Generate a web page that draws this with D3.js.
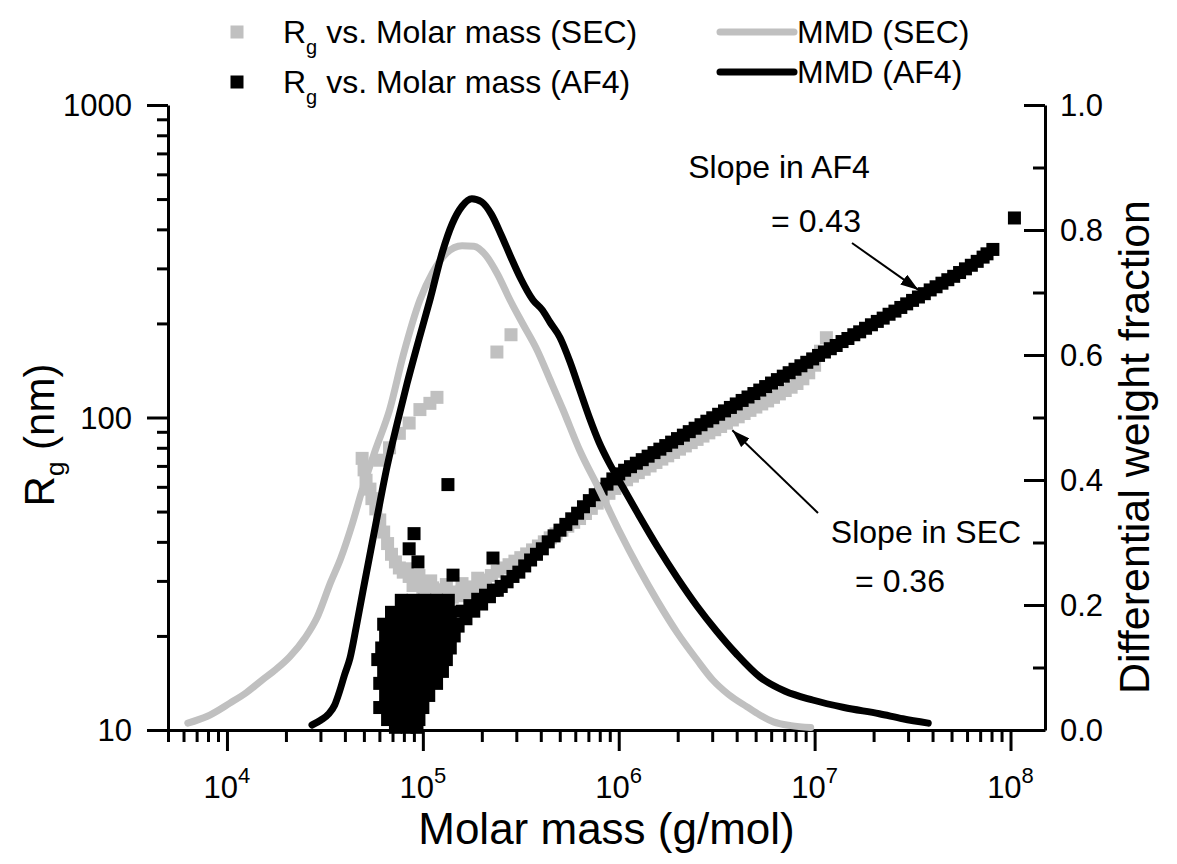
<!DOCTYPE html>
<html>
<head>
<meta charset="utf-8">
<script src="https://cdn.jsdelivr.net/npm/d3@7"></script>
<style>
  body { margin: 0; background: #fff; }
  svg { font-family: "Liberation Sans", Arial, sans-serif; }
</style>
</head>
<body>
<svg id="chart"></svg>
<script>
// values; molar mass kept as log10(M)
const secMmd = [
  [3.80, 0.011], [3.90, 0.022], [4.015, 0.043], [4.10, 0.060], [4.18, 0.080], [4.25, 0.097],
  [4.32, 0.117], [4.40, 0.148], [4.46, 0.180], [4.53, 0.237], [4.58, 0.274], [4.64, 0.330],
  [4.69, 0.384], [4.76, 0.450], [4.83, 0.512], [4.90, 0.600], [4.985, 0.688], [5.05, 0.732],
  [5.12, 0.763], [5.20, 0.775], [5.26, 0.774], [5.32, 0.760], [5.38, 0.730], [5.445, 0.688],
  [5.51, 0.650], [5.583, 0.608], [5.65, 0.560], [5.716, 0.512], [5.80, 0.448], [5.90, 0.385],
  [6.00, 0.320], [6.10, 0.260], [6.20, 0.205], [6.30, 0.155], [6.40, 0.112], [6.48, 0.080],
  [6.56, 0.057], [6.655, 0.037], [6.72, 0.024], [6.79, 0.013], [6.88, 0.007], [6.98, 0.004]
];

const af4Mmd = [
  [4.434, 0.008], [4.48, 0.016], [4.52, 0.026], [4.55, 0.040], [4.575, 0.062], [4.60, 0.088],
  [4.628, 0.115], [4.66, 0.165], [4.694, 0.222], [4.76, 0.330], [4.817, 0.421], [4.87, 0.492],
  [4.919, 0.554], [4.98, 0.625], [5.036, 0.688], [5.10, 0.765], [5.15, 0.810], [5.20, 0.838],
  [5.25, 0.850], [5.30, 0.845], [5.35, 0.825], [5.40, 0.792], [5.45, 0.756], [5.50, 0.722],
  [5.562, 0.688], [5.61, 0.672], [5.65, 0.652], [5.70, 0.628], [5.75, 0.590], [5.80, 0.545],
  [5.85, 0.500], [5.90, 0.460], [5.95, 0.428], [6.00, 0.400], [6.10, 0.345], [6.20, 0.292],
  [6.30, 0.243], [6.40, 0.198], [6.50, 0.158], [6.60, 0.122], [6.72, 0.085], [6.85, 0.062],
  [6.99, 0.048], [7.15, 0.036], [7.33, 0.026], [7.45, 0.018], [7.58, 0.011]
];

const secRg = [
  [4.69, 74], [4.70, 68], [4.71, 63], [4.73, 59], [4.74, 55], [4.76, 51], [4.78, 47], [4.80, 43],
  [4.82, 39.5], [4.84, 36.5], [4.86, 34.5], [4.88, 33], [4.90, 32], [4.93, 31], [4.96, 30.2],
  [4.99, 29.6], [5.02, 29.0], [5.05, 28.5], [5.08, 28.1], [5.11, 27.8], [5.14, 27.6], [5.17, 27.6],
  [5.20, 27.8], [5.23, 28.2], [5.26, 28.7], [5.29, 29.4], [5.32, 30.2], [5.35, 31.2], [5.38, 32.2],
  [5.41, 33.0], [5.44, 33.8], [5.47, 34.7], [5.50, 35.6], [5.53, 36.6], [5.56, 37.7], [5.59, 38.8],
  [5.62, 40.0], [5.65, 41.2], [5.68, 42.4], [5.71, 43.6], [5.74, 44.9], [5.77, 46.2], [5.80, 47.5],
  [5.83, 49.3], [5.86, 51.2], [5.89, 53.2], [5.92, 55.2], [5.95, 57.2], [5.98, 59.3], [6.01, 61.5],
  [6.04, 63.2], [6.07, 64.9], [6.10, 66.6], [6.13, 68.3], [6.16, 70.0], [6.19, 71.8], [6.22, 73.6],
  [6.25, 75.4], [6.28, 77.3], [6.31, 79.2], [6.34, 81.1], [6.37, 83.1], [6.40, 85.1], [6.43, 87.2],
  [6.46, 89.3], [6.49, 91.4], [6.52, 93.6], [6.55, 95.9], [6.58, 98.2], [6.61, 100.5], [6.64, 103],
  [6.67, 105.4], [6.70, 108], [6.73, 110.5], [6.76, 113], [6.79, 116], [6.82, 119], [6.85, 122],
  [6.88, 125], [6.91, 128.5], [6.94, 133], [6.97, 139], [7.00, 147], [7.03, 163], [7.06, 180],
  [4.95, 29.0], [5.00, 28.2], [5.05, 27.3], [5.10, 26.8], [5.15, 26.6], [5.20, 26.9], [5.25, 27.4],
  [5.30, 28.4], [4.92, 32.8], [4.98, 31.2], [5.04, 30.0], [5.12, 29.2], [5.20, 29.4], [5.28, 30.6],
  [4.78, 73], [4.83, 80], [4.88, 89], [4.93, 96], [4.985, 106], [5.036, 111], [5.072, 116],
  [5.378, 162], [5.45, 184]
];

const af4Rg = [
  [4.89, 26.0], [4.95, 26.0], [5.01, 26.0], [5.07, 26.0], [5.13, 26.0],
  [4.84, 23.8], [4.90, 23.8], [4.96, 23.8], [5.02, 23.8], [5.08, 23.8], [5.14, 23.8],
  [4.80, 21.8], [4.86, 21.8], [4.92, 21.8], [4.98, 21.8], [5.04, 21.8], [5.10, 21.8], [5.16, 21.8],
  [4.81, 20.0], [4.87, 20.0], [4.93, 20.0], [4.99, 20.0], [5.05, 20.0], [5.11, 20.0], [5.16, 20.0],
  [4.79, 18.3], [4.85, 18.3], [4.91, 18.3], [4.97, 18.3], [5.03, 18.3], [5.09, 18.3], [5.14, 18.3],
  [4.77, 16.8], [4.83, 16.8], [4.89, 16.8], [4.95, 16.8], [5.01, 16.8], [5.07, 16.8], [5.12, 16.8],
  [4.80, 15.4], [4.86, 15.4], [4.92, 15.4], [4.98, 15.4], [5.04, 15.4], [5.10, 15.4],
  [4.78, 14.1], [4.84, 14.1], [4.90, 14.1], [4.96, 14.1], [5.02, 14.1], [5.07, 14.1],
  [4.81, 12.9], [4.87, 12.9], [4.93, 12.9], [4.99, 12.9], [5.03, 12.9],
  [4.78, 11.8], [4.84, 11.8], [4.90, 11.8], [4.96, 11.8], [5.00, 11.8],
  [4.82, 10.8], [4.88, 10.8], [4.94, 10.8], [4.98, 10.8],
  [4.86, 10.2], [4.92, 10.2], [4.97, 10.2],
  [5.18, 21.5], [5.22, 22.7], [5.26, 24.0], [5.30, 25.3], [5.34, 26.7], [5.38, 28.0],
  [5.20, 24.0], [5.24, 25.0], [5.28, 26.2], [5.32, 27.0], [5.36, 28.0], [5.40, 28.8], [5.43, 29.8],
  [5.46, 31.0], [5.49, 32.0], [5.52, 33.5], [5.55, 35.0], [5.58, 36.5], [5.61, 38.0], [5.64, 40.0],
  [5.67, 41.8], [5.70, 43.6], [5.73, 45.5], [5.76, 47.4], [5.79, 49.4], [5.82, 51.8], [5.85, 54.2],
  [5.88, 56.6], [5.91, 59.0], [5.94, 61.2], [5.97, 63.6], [6.00, 66.0], [6.03, 67.8], [6.06, 69.6],
  [6.09, 71.4], [6.12, 73.3], [6.15, 75.2], [6.18, 77.2], [6.21, 79.2], [6.24, 81.3], [6.27, 83.4],
  [6.30, 85.6], [6.33, 87.8], [6.36, 90.1], [6.39, 92.4], [6.42, 94.8], [6.45, 97.3], [6.48, 99.8],
  [6.51, 102.4], [6.54, 105], [6.57, 107.7], [6.60, 110.5], [6.63, 113.4], [6.66, 116.3],
  [6.69, 119.3], [6.72, 122.4], [6.75, 125.6], [6.78, 128.9], [6.81, 132.2], [6.84, 135.6],
  [6.87, 139.1], [6.90, 142.7], [6.93, 146.4], [6.96, 150.2], [6.99, 154], [7.02, 158], [7.05, 162],
  [7.08, 166], [7.11, 170], [7.14, 175], [7.17, 179], [7.20, 184], [7.23, 188], [7.26, 193],
  [7.29, 198], [7.32, 203], [7.35, 208], [7.38, 214], [7.41, 219], [7.44, 225], [7.47, 231],
  [7.50, 237], [7.53, 243], [7.56, 249], [7.59, 256], [7.62, 262], [7.65, 269], [7.68, 276],
  [7.71, 283], [7.74, 291], [7.77, 299], [7.80, 307], [7.83, 316], [7.86, 326], [7.88, 334],
  [7.91, 345], [8.02, 435],
  [5.128, 61], [4.955, 42.5], [4.93, 38], [4.975, 34.5], [5.154, 31.3], [5.358, 35.5]
];

const xMajor = [1e4, 1e5, 1e6, 1e7, 1e8];
const xExp = ["4", "5", "6", "7", "8"];
const yMajor = [10, 100, 1000];
const yMajorLabels = ["10", "100", "1000"];
const y2Major = [0, 0.2, 0.4, 0.6, 0.8, 1.0];
const y2MajorLabels = ["0.0", "0.2", "0.4", "0.6", "0.8", "1.0"];
const y2Minor = [0.1, 0.3, 0.5, 0.7, 0.9];

const width = 1177;
const height = 864;
const plotLeft = 168, plotRight = 1045, plotTop = 105, plotBottom = 730;
const gray = "#c0c0c0";

const svg = d3.select("#chart")
  .attr("width", width)
  .attr("height", height);

const x = d3.scaleLog().domain([5000, 1.5e8]).range([plotLeft, plotRight]);
const y = d3.scaleLog().domain([10, 1000]).range([plotBottom, plotTop]);
const y2 = d3.scaleLinear().domain([0, 1]).range([plotBottom, plotTop]);
const mx = lg => x(Math.pow(10, lg));

// minor ticks on the log axes
const xMinor = [];
for (let e = 3; e <= 7; e++) {
  for (let k = 2; k <= 9; k++) {
    const v = k * Math.pow(10, e);
    if (v >= 5000 && v <= 1.5e8) xMinor.push(v);
  }
}
const yMinor = [];
for (let e = 1; e <= 2; e++) {
  for (let k = 2; k <= 9; k++) yMinor.push(k * Math.pow(10, e));
}

function styleAxis(g) {
  g.selectAll("path, line").attr("stroke", "#000").attr("stroke-width", 3);
  g.selectAll("text").remove();
}

// bottom axis
svg.append("g")
  .attr("transform", `translate(0,${plotBottom})`)
  .call(d3.axisBottom(x).tickValues(xMinor).tickSize(12).tickSizeOuter(0).tickFormat(""))
  .call(styleAxis);
svg.append("g")
  .attr("transform", `translate(0,${plotBottom})`)
  .call(d3.axisBottom(x).tickValues(xMajor).tickSize(21).tickSizeOuter(0).tickFormat(""))
  .call(styleAxis)
  .select(".domain").remove();

svg.append("g")
  .selectAll("text")
  .data(xMajor)
  .join("text")
  .attr("x", d => x(d))
  .attr("y", 798)
  .attr("text-anchor", "middle")
  .attr("font-size", 31)
  .each(function(d, i) {
    const t = d3.select(this);
    t.append("tspan").text("10");
    t.append("tspan").attr("font-size", 22).attr("dy", -15).text(xExp[i]);
  });

// left axis
svg.append("g")
  .attr("transform", `translate(${plotLeft},0)`)
  .call(d3.axisLeft(y).tickValues(yMinor).tickSize(11).tickSizeOuter(0).tickFormat(""))
  .call(styleAxis);
svg.append("g")
  .attr("transform", `translate(${plotLeft},0)`)
  .call(d3.axisLeft(y).tickValues(yMajor).tickSize(21).tickSizeOuter(0).tickFormat(""))
  .call(styleAxis)
  .select(".domain").remove();
svg.append("g")
  .selectAll("text")
  .data(yMajor)
  .join("text")
  .attr("x", 132)
  .attr("y", d => y(d))
  .attr("dy", "0.36em")
  .attr("text-anchor", "end")
  .attr("font-size", 31)
  .text((d, i) => yMajorLabels[i]);

// right axis, ticks pointing inward
svg.append("g")
  .attr("transform", `translate(${plotRight},0)`)
  .call(d3.axisLeft(y2).tickValues(y2Minor).tickSize(12).tickSizeOuter(0).tickFormat(""))
  .call(styleAxis);
svg.append("g")
  .attr("transform", `translate(${plotRight},0)`)
  .call(d3.axisLeft(y2).tickValues(y2Major).tickSize(21).tickSizeOuter(0).tickFormat(""))
  .call(styleAxis)
  .select(".domain").remove();
svg.append("g")
  .selectAll("text")
  .data(y2Major)
  .join("text")
  .attr("x", 1060)
  .attr("y", d => y2(d))
  .attr("dy", "0.36em")
  .attr("font-size", 31)
  .text((d, i) => y2MajorLabels[i]);

// scatter: SEC first, AF4 on top
const sq = 13;
svg.append("g")
  .selectAll("rect")
  .data(secRg)
  .join("rect")
  .attr("x", d => mx(d[0]) - sq / 2)
  .attr("y", d => y(d[1]) - sq / 2)
  .attr("width", sq)
  .attr("height", sq)
  .attr("fill", gray);

svg.append("g")
  .selectAll("rect")
  .data(af4Rg)
  .join("rect")
  .attr("x", d => mx(d[0]) - sq / 2)
  .attr("y", d => y(d[1]) - sq / 2)
  .attr("width", sq)
  .attr("height", sq)
  .attr("fill", "#000");

// molar mass distributions
const line = d3.line()
  .x(d => mx(d[0]))
  .y(d => y2(d[1]))
  .curve(d3.curveMonotoneX);

svg.append("path")
  .datum(secMmd)
  .attr("d", line)
  .attr("fill", "none")
  .attr("stroke", gray)
  .attr("stroke-width", 7)
  .attr("stroke-linecap", "round")
  .attr("stroke-linejoin", "round");

svg.append("path")
  .datum(af4Mmd)
  .attr("d", line)
  .attr("fill", "none")
  .attr("stroke", "#000")
  .attr("stroke-width", 7)
  .attr("stroke-linecap", "round")
  .attr("stroke-linejoin", "round");

// axis titles
svg.append("text")
  .attr("x", (plotLeft + plotRight) / 2)
  .attr("y", 844)
  .attr("text-anchor", "middle")
  .attr("font-size", 44)
  .text("Molar mass (g/mol)");

const yt = svg.append("text")
  .attr("transform", `translate(54,435) rotate(-90)`)
  .attr("text-anchor", "middle")
  .attr("font-size", 42);
yt.append("tspan").text("R");
yt.append("tspan").attr("font-size", 26).attr("dy", 10).text("g");
yt.append("tspan").attr("dy", -10).text(" (nm)");

svg.append("text")
  .attr("transform", `translate(1149,447) rotate(-90)`)
  .attr("text-anchor", "middle")
  .attr("font-size", 43)
  .text("Differential weight fraction");

// legend
const legRows = [
  { y: 32, fill: gray, label: " vs. Molar mass (SEC)" },
  { y: 82, fill: "#000", label: " vs. Molar mass (AF4)" }
];
legRows.forEach(r => {
  svg.append("rect").attr("x", 237 - sq / 2).attr("y", r.y - sq / 2)
    .attr("width", sq).attr("height", sq).attr("fill", r.fill);
  const t = svg.append("text").attr("x", 283).attr("y", r.y + 11).attr("font-size", 32);
  t.append("tspan").text("R");
  t.append("tspan").attr("font-size", 20).attr("dy", 11).text("g");
  t.append("tspan").attr("dy", -11).text(r.label);
});

const legLines = [
  { y: 32, stroke: gray, label: "MMD (SEC)" },
  { y: 72, stroke: "#000", label: "MMD (AF4)" }
];
legLines.forEach(r => {
  svg.append("line").attr("x1", 720).attr("x2", 794).attr("y1", r.y).attr("y2", r.y)
    .attr("stroke", r.stroke).attr("stroke-width", 7).attr("stroke-linecap", "round");
  svg.append("text").attr("x", 797).attr("y", r.y + 11).attr("font-size", 32).text(r.label);
});

// annotations
svg.append("defs").append("marker")
  .attr("id", "head")
  .attr("viewBox", "0 0 18 12")
  .attr("refX", 18).attr("refY", 6)
  .attr("markerWidth", 18).attr("markerHeight", 12)
  .attr("markerUnits", "userSpaceOnUse")
  .attr("orient", "auto")
  .append("path").attr("d", "M0,0L18,6L0,12Z").attr("fill", "#000");

const notes = [
  { text: "Slope in AF4", x: 779, y: 178 },
  { text: "= 0.43", x: 816, y: 232 },
  { text: "Slope in SEC", x: 926, y: 543 },
  { text: "= 0.36", x: 900, y: 592 }
];
svg.append("g")
  .selectAll("text")
  .data(notes)
  .join("text")
  .attr("x", d => d.x)
  .attr("y", d => d.y)
  .attr("text-anchor", "middle")
  .attr("font-size", 32)
  .text(d => d.text);

// arrow tips sit on the bands (data units), tails next to the text
svg.append("line")
  .attr("x1", 852).attr("y1", 243)
  .attr("x2", mx(7.53)).attr("y2", y(256))
  .attr("stroke", "#000").attr("stroke-width", 2)
  .attr("marker-end", "url(#head)");
svg.append("line")
  .attr("x1", 818).attr("y1", 513)
  .attr("x2", mx(6.58)).attr("y2", y(91))
  .attr("stroke", "#000").attr("stroke-width", 2)
  .attr("marker-end", "url(#head)");
</script>
</body>
</html>
